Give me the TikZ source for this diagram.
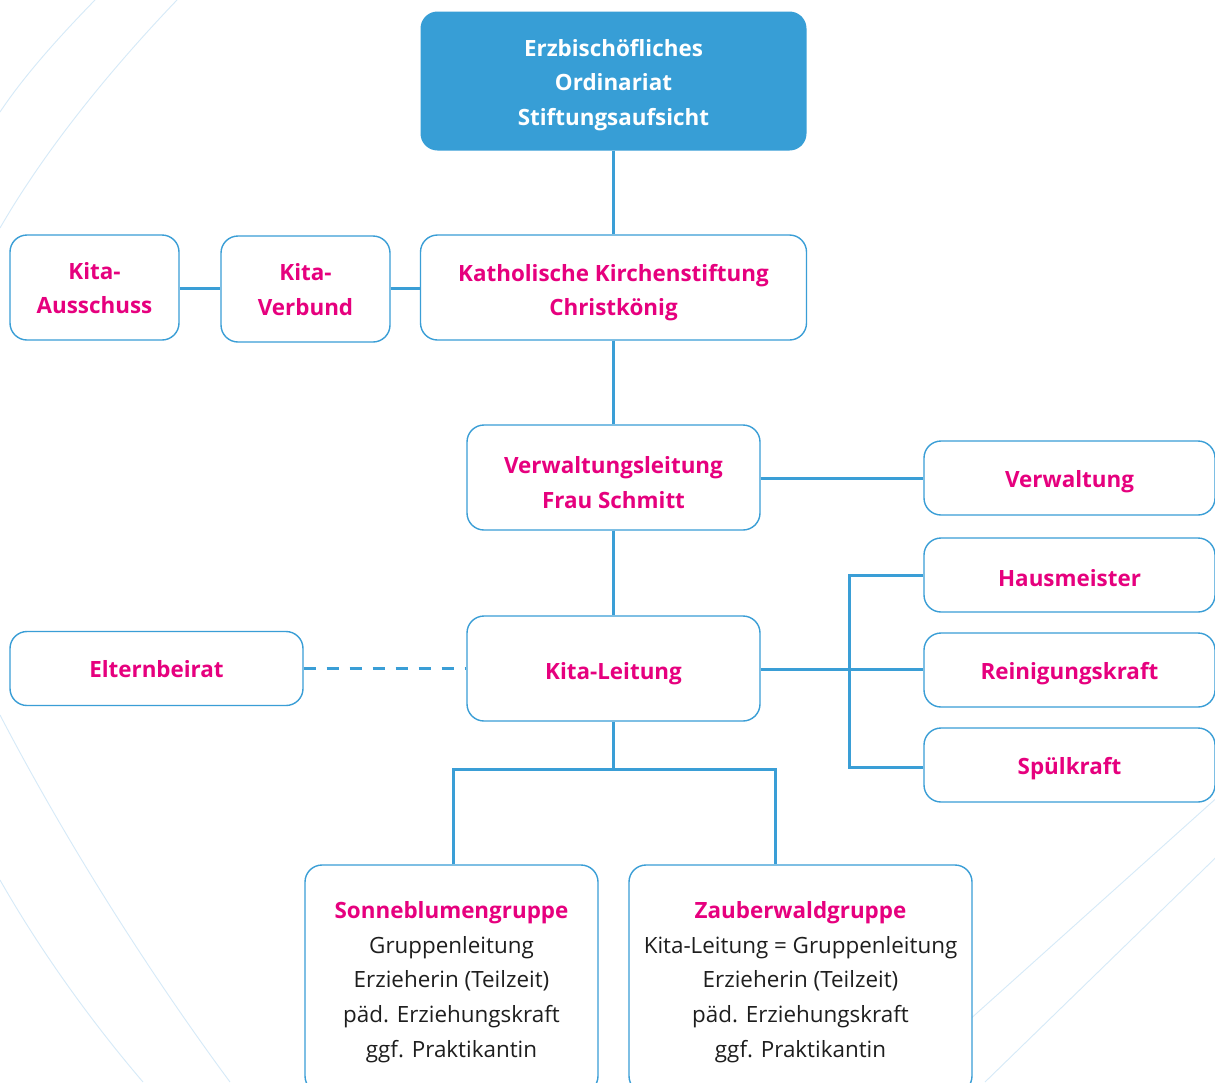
\documentclass[tikz,border=0pt]{standalone}
\usepackage{fontspec}
\setmainfont{Open Sans}
\definecolor{lineblue}{RGB}{58,158,214}
\definecolor{topblue}{RGB}{55,158,214}
\definecolor{kpink}{RGB}{230,0,126}
\definecolor{faint}{RGB}{214,234,248}
\definecolor{bodytext}{RGB}{30,30,30}
\tikzset{
  box/.style={draw=lineblue, line width=1.4pt, fill=white, rounded corners=17pt, inner sep=0pt},
  topbox/.style={fill=topblue, rounded corners=17pt, inner sep=0pt},
  lbl/.style={inner sep=0pt, align=center, font=\fontsize{22.4}{34.6}\selectfont\bfseries, text=kpink},
  toplbl/.style={lbl, text=white},
  conn/.style={draw=lineblue, line width=3pt},
  dconn/.style={draw=lineblue, line width=3pt, dash pattern=on 12pt off 11pt},
  bgline/.style={draw=faint, line width=0.9pt}
}
\newcommand{\bodyline}[1]{{\mdseries\color{bodytext}#1}}
\begin{document}
\begin{tikzpicture}[x=1pt,y=-1pt]
\useasboundingbox (0,0) rectangle (1215,1082);
\clip (0,0) rectangle (1215,1082);
\fill[white] (0,0) rectangle (1215,1082);
% background faint arcs
\draw[bgline] (95,0) .. controls (58,38) and (24,76) .. (0,112);
\draw[bgline] (177,0) .. controls (110,70) and (45,150) .. (0,228);
\draw[bgline] (0,715) .. controls (60,830) and (140,960) .. (230,1082);
\draw[bgline] (0,880) .. controls (40,950) and (90,1020) .. (143,1082);
\draw[bgline] (1250,768) -- (880,1100);
\draw[bgline] (1240,834) -- (985,1082);

% boxes
\node[topbox, minimum width=386pt, minimum height=139pt] (ord) at (613.5,81) {};
\node[box, minimum width=386pt, minimum height=105pt] (kks) at (613.5,287.5) {};
\node[box, minimum width=169pt, minimum height=105pt] (aus) at (94.5,287.5) {};
\node[box, minimum width=169pt, minimum height=106pt] (verb) at (305.5,289) {};
\node[box, minimum width=293pt, minimum height=105pt] (vl) at (613.5,477.5) {};
\node[box, minimum width=291pt, minimum height=74pt] (vw) at (1069.5,478) {};
\node[box, minimum width=291pt, minimum height=74pt] (hm) at (1069.5,575) {};
\node[box, minimum width=291pt, minimum height=74pt] (rk) at (1069.5,670) {};
\node[box, minimum width=291pt, minimum height=74pt] (sk) at (1069.5,765) {};
\node[box, minimum width=293pt, minimum height=105pt] (kl) at (613.5,668.5) {};
\node[box, minimum width=293pt, minimum height=74pt] (eb) at (156.5,668.5) {};
\node[box, minimum width=293pt, minimum height=228pt] (sb) at (451.5,979) {};
\node[box, minimum width=343pt, minimum height=228pt] (zw) at (800.5,979) {};

% texts
\node[toplbl] (ordt) at ([yshift=-4pt]ord.center) {Erzbischöfliches\\Ordinariat\\Stiftungsaufsicht};
\node[lbl] (kkst) at ([yshift=-5pt]kks.center) {Katholische Kirchenstiftung\\Christkönig};
\node[lbl] (aust) at ([yshift=-0.5pt]aus.center) {Kita-\\Ausschuss};
\node[lbl] (verbt) at ([yshift=-0.5pt]verb.center) {Kita-\\Verbund};
\node[lbl] (vlt) at ([yshift=-5pt]vl.center) {Verwaltungsleitung\\Frau Schmitt};
\node[lbl] (vwt) at ([yshift=-3.5pt]vw.center) {Verwaltung};
\node[lbl] (hmt) at ([yshift=-3.5pt]hm.center) {Hausmeister};
\node[lbl] (rkt) at ([yshift=-4pt]rk.center) {Reinigungskraft};
\node[lbl] (skt) at ([yshift=-4pt]sk.center) {Spülkraft};
\node[lbl] (klt) at ([yshift=-5pt]kl.center) {Kita-Leitung};
\node[lbl] (ebt) at ([yshift=-1pt]eb.center) {Elternbeirat};
\node[lbl] (sbt) at ([yshift=-3pt]sb.center) {Sonneblumengruppe\\\bodyline{Gruppenleitung}\\\bodyline{Erzieherin (Teilzeit)}\\\bodyline{päd. Erziehungskraft}\\\bodyline{ggf. Praktikantin}};
\node[lbl] (zwt) at ([yshift=-3pt]zw.center) {Zauberwaldgruppe\\\bodyline{Kita-Leitung = Gruppenleitung}\\\bodyline{Erzieherin (Teilzeit)}\\\bodyline{päd. Erziehungskraft}\\\bodyline{ggf. Praktikantin}};

% connectors
\draw[conn] (ord.south) -- (kks.north);
\draw[conn] (aus.east |- 0,288) -- (verb.west |- 0,288);
\draw[conn] (verb.east |- 0,288) -- (kks.west |- 0,288);
\draw[conn] (kks.south) -- (vl.north);
\draw[conn] (vl.east |- 0,478) -- (vw.west |- 0,478);
\draw[conn] (vl.south) -- (kl.north);
\draw[conn] (kl.east |- 0,669) -- (rk.west |- 0,669);
\coordinate (bt) at (849,575);
\coordinate (bb) at (849,767);
\draw[conn] (hm.west |- bt) -- (bt) -- (bb) -- (sk.west |- bb);
\draw[dconn] (eb.east) -- (kl.west |- eb.east);
\coordinate (jn) at (613.5,769);
\coordinate (jl) at (453,769);
\coordinate (jr) at (775,769);
\draw[conn] (kl.south) -- (jn);
\draw[conn] (sb.north -| jl) -- (jl) -- (jr) -- (zw.north -| jr);
\end{tikzpicture}
\end{document}
